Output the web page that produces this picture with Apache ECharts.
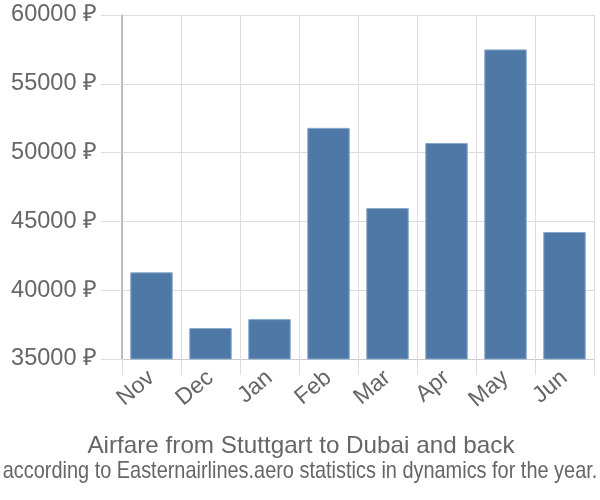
<!DOCTYPE html>
<html><head><meta charset="utf-8">
<script src="https://cdn.jsdelivr.net/npm/echarts@6/dist/echarts.min.js"></script>
<style>html,body{margin:0;padding:0;background:#fff}#c{width:600px;height:500px}</style>
</head><body><div id="c"></div>
<script>
const categories = ['Nov','Dec','Jan','Feb','Mar','Apr','May','Jun'];
const prices = [41300, 37250, 37900, 51800, 45970, 50700, 57500, 44230];
const yTicks = { min: 35000, max: 60000, step: 5000 };
const titleText = 'Airfare from Stuttgart to Dubai and back';
const subText = 'according to Easternairlines.aero statistics in dynamics for the year.';

const FONT = 'Liberation Sans, Arial, sans-serif';
const chart = echarts.init(document.getElementById('c'), null, {renderer:'canvas'});
chart.setOption({
  animation: false,
  textStyle: { fontFamily: FONT },
  graphic: [
    { type: 'text', x: 301, y: 446, scaleX: 1.01,
      style: { text: titleText, x: 0, y: 0, textAlign: 'center', textVerticalAlign: 'middle',
               fontSize: 24, fontFamily: FONT, fill: '#666' } },
    { type: 'text', x: 300, y: 471, scaleX: 0.83,
      style: { text: subText, x: 0, y: 0, textAlign: 'center', textVerticalAlign: 'middle',
               fontSize: 24, fontFamily: FONT, fill: '#666' } }
  ],
  grid: { left: 122, right: 6, top: 15, bottom: 141, containLabel: false },
  xAxis: {
    type: 'category', data: categories, boundaryGap: true,
    axisLine: { show: true, lineStyle: { color: '#ccc' } },
    axisTick: { show: true, length: 16, lineStyle: { color: '#ddd' } },
    splitLine: { show: true, lineStyle: { color: '#ddd' } },
    axisLabel: { rotate: 40, fontSize: 23, color: '#666', margin: 16 }
  },
  yAxis: {
    type: 'value', min: yTicks.min, max: yTicks.max, interval: yTicks.step,
    axisLine: { show: true, lineStyle: { color: '#aaa', width: 1.5 } },
    axisTick: { show: true, length: 21, lineStyle: { color: '#ddd' } },
    splitLine: { show: true, lineStyle: { color: '#ddd' } },
    axisLabel: { formatter: function (v) { return v + ' ₽'; }, fontSize: 23.5, color: '#666', margin: 25 }
  },
  series: [{
    type: 'bar', data: prices, barWidth: '72%',
    itemStyle: { color: '#4e79a7', borderColor: '#8aa9cc', borderWidth: 1 }
  }]
});
</script></body></html>
